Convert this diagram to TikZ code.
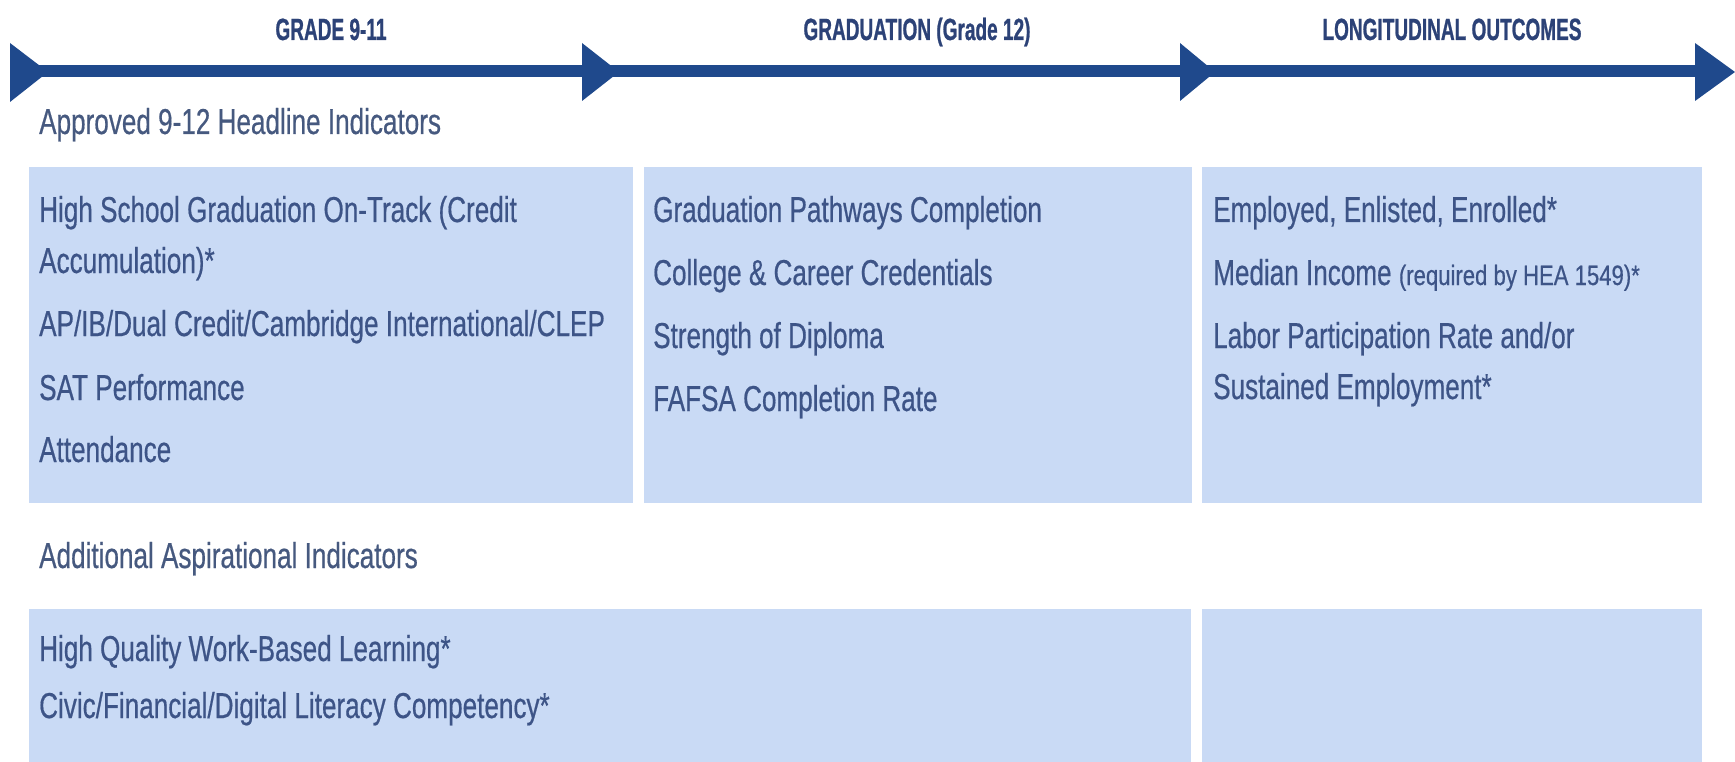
\documentclass[tikz,border=0pt]{standalone}
\usepackage{fontspec}
\setmainfont{Liberation Sans}[FakeStretch=0.725,FakeBold=0.5]
\newfontfamily\hdrfont{Liberation Sans}[FakeStretch=0.62,FakeBold=0.8]
\newfontfamily\notefont{Liberation Sans}[FakeStretch=0.79,FakeBold=0.5]
\definecolor{boxblue}{HTML}{C9DAF5}
\definecolor{arrowblue}{HTML}{1F498C}
\definecolor{txtblue}{HTML}{3D5487}
\definecolor{hdrblue}{HTML}{2C4277}
\definecolor{secblue}{HTML}{46597F}
\begin{document}
\begin{tikzpicture}[x=1pt,y=-1pt,
  box/.style={fill=boxblue, draw=none, inner sep=0pt, anchor=north west},
  item/.style={anchor=base west, inner sep=0pt, text=txtblue, font=\fontsize{36}{36}\selectfont},
  sect/.style={anchor=base west, inner sep=0pt, text=secblue, font=\fontsize{36}{36}\selectfont},
  hdr/.style={anchor=base, inner sep=0pt, text=hdrblue, font=\hdrfont\bfseries\fontsize{30.7}{31}\selectfont},
  tri/.style={fill=arrowblue}]
\useasboundingbox (0,0) rectangle (1735,762);

% timeline
\fill[arrowblue] (11,65) rectangle (1700,77);
\fill[tri] (10,43) -- (48,72) -- (10,102) -- cycle;
\fill[tri] (582,43) -- (619,72) -- (582,101) -- cycle;
\fill[tri] (1180,43) -- (1215,72) -- (1180,101) -- cycle;
\fill[tri] (1695,43) -- (1735,72) -- (1695,101) -- cycle;

% headers
\node[hdr] (h1) at (331,40) {GRADE 9-11};
\node[hdr] (h2) at (917,40) {GRADUATION (Grade 12)};
\node[hdr] (h3) at (1452,40) {LONGITUDINAL OUTCOMES};

% section titles
\node[sect] (s1) at (39,134) {Approved 9-12 Headline Indicators};
\node[sect] (s2) at (39,568) {Additional Aspirational Indicators};

% boxes
\node[box, minimum width=604pt, minimum height=336pt] (b1) at (29,167) {};
\node[box, minimum width=548pt, minimum height=336pt] (b2) at (644,167) {};
\node[box, minimum width=500pt, minimum height=336pt] (b3) at (1202,167) {};
\node[box, minimum width=1162pt, minimum height=153pt] (b4) at (29,609) {};
\node[box, minimum width=500pt, minimum height=153pt] (b5) at (1202,609) {};

% box 1
\node[item] (t11) at (39,222) {High School Graduation On-Track (Credit};
\node[item] (t12) at (39,273) {Accumulation)*};
\node[item] (t13) at (39,336) {AP/IB/Dual Credit/Cambridge International/CLEP};
\node[item] (t14) at (39,400) {SAT Performance};
\node[item] (t15) at (39,462) {Attendance};

% box 2
\node[item] (t21) at (653,222) {Graduation Pathways Completion};
\node[item] (t22) at (653,285) {College \& Career Credentials};
\node[item] (t23) at (653,348) {Strength of Diploma};
\node[item] (t24) at (653,411) {FAFSA Completion Rate};

% box 3
\node[item] (t31) at (1213,222) {Employed, Enlisted, Enrolled*};
\node[item] (t32) at (1213,285) {Median Income {\notefont\fontsize{28}{28}\selectfont (required by HEA 1549)*}};
\node[item] (t33) at (1213,348) {Labor Participation Rate and/or};
\node[item] (t34) at (1213,399) {Sustained Employment*};

% box 4
\node[item] (t41) at (39,661) {High Quality Work-Based Learning*};
\node[item] (t42) at (39,718) {Civic/Financial/Digital Literacy Competency*};
\end{tikzpicture}
\end{document}
